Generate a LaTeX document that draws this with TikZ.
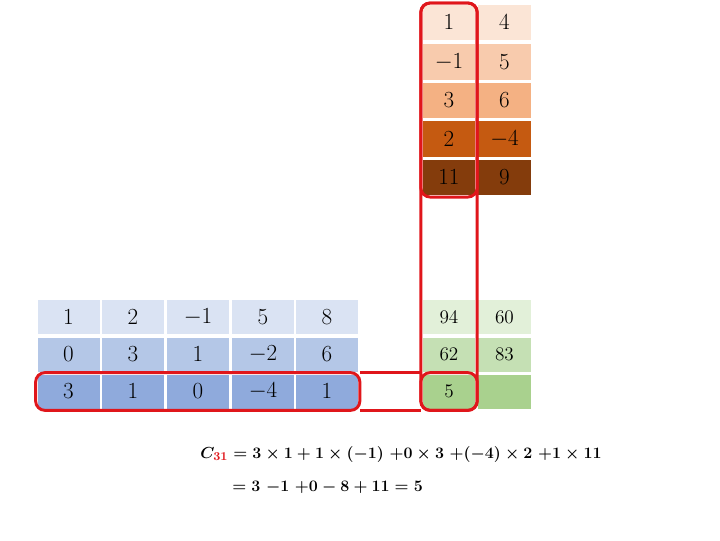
\documentclass[tikz,border=0pt]{standalone}
\usepackage{amsmath}
\usetikzlibrary{fit}
\definecolor{bone}{HTML}{FBE5D6}
\definecolor{btwo}{HTML}{F8CBAD}
\definecolor{bthree}{HTML}{F4B183}
\definecolor{bfour}{HTML}{C55A11}
\definecolor{bfive}{HTML}{843C0C}
\definecolor{aone}{HTML}{DAE3F3}
\definecolor{atwo}{HTML}{B4C7E7}
\definecolor{athree}{HTML}{8FAADC}
\definecolor{cone}{HTML}{E2F0D9}
\definecolor{ctwo}{HTML}{C5E0B4}
\definecolor{cthree}{HTML}{A9D18E}
\definecolor{hlred}{HTML}{E0161B}
\newcommand{\sumline}{C_{\color{hlred}31} = 3\times 1+1\times(-1)\ {+}0\times 3\ {+}({-}4)\times 2\ {+}1\times 11}
\newcommand{\sumresult}{=3\ {-}1\ {+}0-8+11=5}

\begin{document}
\begin{tikzpicture}[
    x=0.75pt, y=-0.75pt,
    bcell/.style={fill=#1, minimum width=39.5pt, minimum height=26.5pt, inner sep=0pt, font=\fontsize{16}{18}\selectfont},
    acell/.style={fill=#1, minimum width=46.5pt, minimum height=25.5pt, inner sep=0pt, font=\fontsize{16}{18}\selectfont},
    ccell/.style={fill=#1, minimum width=39.5pt, minimum height=25.5pt, inner sep=0pt, font=\fontsize{14.5}{16}\selectfont},
    hl/.style={draw=hlred, line width=2.2pt, rounded corners=7pt, inner sep=1.2pt, outer sep=0pt},
    hlline/.style={draw=hlred, line width=2.2pt},
    sumtext/.style={anchor=west, inner sep=0pt, font=\fontsize{13}{15}\selectfont\boldmath},
]
\useasboundingbox (0,0) rectangle (720,540);

% Matrix B (top right)
\node[bcell=bone]   (b11) at (449,22.5)  {$1$};
\node[bcell=bone]   (b12) at (504.5,22.5) {$4$};
\node[bcell=btwo]   (b21) at (449,62)    {$-1$};
\node[bcell=btwo]   (b22) at (504.5,62)  {$5$};
\node[bcell=bthree] (b31) at (449,100.5) {$3$};
\node[bcell=bthree] (b32) at (504.5,100.5) {$6$};
\node[bcell=bfour]  (b41) at (449,139)   {$2$};
\node[bcell=bfour]  (b42) at (504.5,139) {$-4$};
\node[bcell=bfive]  (b51) at (449,177.5) {$11$};
\node[bcell=bfive]  (b52) at (504.5,177.5) {$9$};

% Matrix A (left)
\node[acell=aone]   (a11) at (68.5,317) {$1$};
\node[acell=aone]   (a12) at (133,317)  {$2$};
\node[acell=aone]   (a13) at (198,317)  {$-1$};
\node[acell=aone]   (a14) at (263,317)  {$5$};
\node[acell=aone]   (a15) at (327,317)  {$8$};
\node[acell=atwo]   (a21) at (68.5,354.5) {$0$};
\node[acell=atwo]   (a22) at (133,354.5)  {$3$};
\node[acell=atwo]   (a23) at (198,354.5)  {$1$};
\node[acell=atwo]   (a24) at (263,354.5)  {$-2$};
\node[acell=atwo]   (a25) at (327,354.5)  {$6$};
\node[acell=athree] (a31) at (68.5,391.5) {$3$};
\node[acell=athree] (a32) at (133,391.5)  {$1$};
\node[acell=athree] (a33) at (198,391.5)  {$0$};
\node[acell=athree] (a34) at (263,391.5)  {$-4$};
\node[acell=athree] (a35) at (327,391.5)  {$1$};

% Matrix C (result)
\node[ccell=cone]   (c11) at (449,317)   {$94$};
\node[ccell=cone]   (c12) at (504.5,317) {$60$};
\node[ccell=ctwo]   (c21) at (449,354.5) {$62$};
\node[ccell=ctwo]   (c22) at (504.5,354.5) {$83$};
\node[ccell=cthree] (c31) at (449,391.5) {$5$};
\node[ccell=cthree] (c32) at (504.5,391.5) {};

% Highlights
\node[hl, fit=(b11)(b51)] (bcol) {};
\node[hl, fit=(b11)(c31)] (fullcol) {};
\node[hl, fit=(a31)(a35)] (arow) {};
\node[hl, fit=(c31)] (cpick) {};
\draw[hlline] (arow.north east) -- (cpick.north west);
\draw[hlline] (arow.south east) -- (cpick.south west);

% Worked sum
\node[sumtext] (eqone) at (200,454) {$\sumline$};
\node[sumtext] (eqtwo) at (232,487) {$\sumresult$};

\end{tikzpicture}
\end{document}
